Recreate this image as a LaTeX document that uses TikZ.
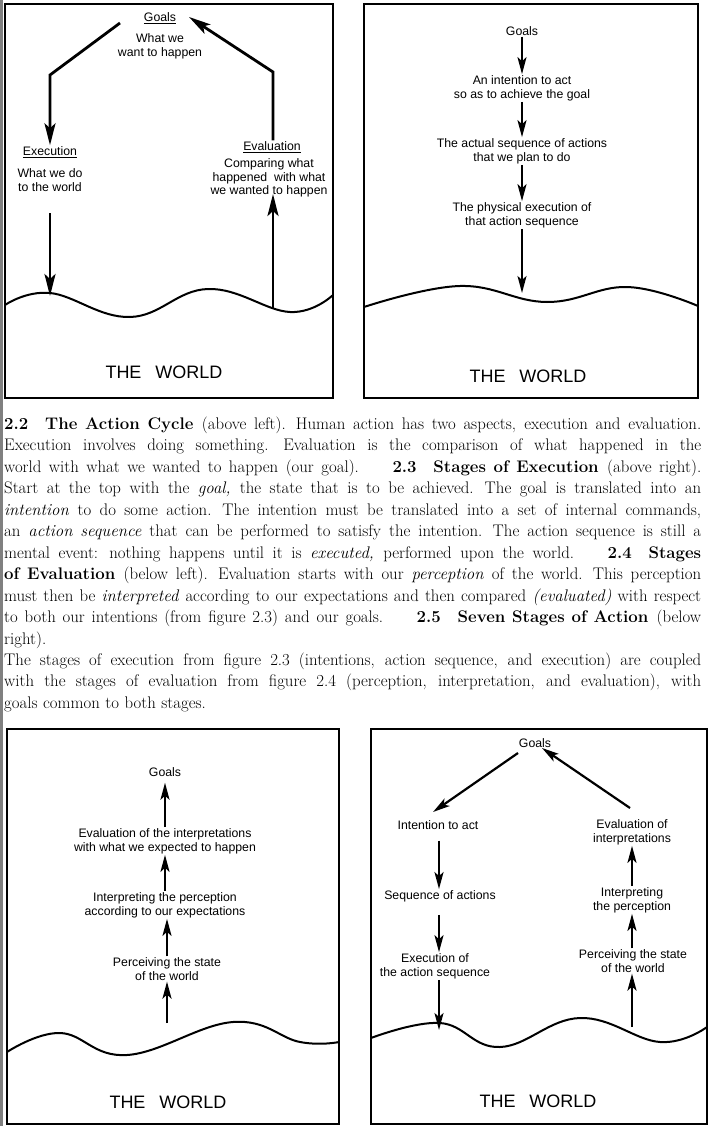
\documentclass[tikz,border=0pt]{standalone}
\usepackage{fontspec}
\setsansfont{Liberation Sans}
\usetikzlibrary{positioning,arrows.meta,calc}

\newcommand{\fignum}[1]{\oldstylenums{#1}}
\newcommand{\capsep}{\hspace{2em}}
\newcommand{\capsetup}{%
  \spaceskip=.33em plus .5em minus .12em\relax
  \xspaceskip=.45em plus .6em minus .12em\relax
  \tolerance=9999\relax
  \hyphenpenalty=10000\relax
  \parindent=0pt\relax}

\begin{document}
\begin{tikzpicture}[
    x=1pt, y=-1pt,
    arrow/.style={
        line width=2.2pt,
        -{Stealth[length=17pt,width=9pt,inset=4pt]},
    },
    arrow_big/.style={
        line width=2.8pt,
        -{Stealth[length=22pt,width=11pt,inset=5pt]},
    },
    panel/.style={draw, line width=1.3pt},
    wave/.style={line width=2pt, line join=round},
    stage/.style={
        align=center,
        inner sep=1pt,
        font=\sffamily\fontsize{12.3}{13.8}\selectfont,
    },
    world/.style={
        inner sep=0pt,
        font=\sffamily\fontsize{18}{20}\selectfont,
    },
    captext/.style={
        text width=697pt,
        align=justify,
        inner sep=0pt,
        anchor=base west,
        font=\fontsize{16.8}{21.45}\selectfont\capsetup,
    },
]
    \useasboundingbox (0,0) rectangle (720,1126);
    \fill[black!50] (0,0) rectangle (3,1126);

    % Panel frames
    \draw[panel] (5,4) rectangle (333,398);
    \draw[panel] (364,4) rectangle (698,398);
    \draw[panel] (7,729) rectangle (339,1124);
    \draw[panel] (371,729) rectangle (707,1124);

    % The world surfaces
    \draw[wave] plot[smooth, tension=0.7] coordinates {(5,305) (50,293) (130,317) (208,289) (290,312) (333,295)};
    \draw[wave] plot[smooth, tension=0.7] coordinates {(364,307) (460,286) (547,302) (627,287) (698,306)};
    \draw[wave] plot[smooth, tension=0.7] coordinates {(7,1052) (60,1033) (127,1055) (233,1022) (300,1042) (339,1042)};
    \draw[wave] plot[smooth, tension=0.7] coordinates {(371,1038) (440,1023) (500,1047) (580,1018) (660,1042) (707,1027)};

    % === The action cycle (top left) ===
    \node[stage] (aGoals) at (160,18) {\underline{Goals}};
    \node[stage] (aWant) at (160,46) {What we\\want to happen};
    \node[stage] (aExec) at (50,152) {\underline{Execution}};
    \node[stage] (aDo) at (50,180) {What we do\\to the world};
    \node[stage] (aEval) at (272,147) {\underline{Evaluation}};
    \node[stage] (aCmp) at (269,178) {Comparing what\\happened\ \ with what\\we wanted to happen};
    \node[world] (aWorld) at (164,372) {THE\hspace{14pt}WORLD};

    \coordinate (aOutL) at (120,23);
    \coordinate (aBendL) at (50,75);
    \coordinate (aOutD) at (50,213);
    \coordinate (aHitL) at (50,296);
    \coordinate (aHitR) at (273,309);
    \coordinate (aTipR) at (273,194);
    \coordinate (aBendR) at (273,72);
    \coordinate (aInR) at (189,17);

    \draw[arrow_big] (aOutL) -- (aBendL) -- (aExec.north);
    \draw[arrow_big] (aOutD) -- (aHitL);
    \draw[arrow_big] (aHitR) -- (aTipR);
    \draw[arrow_big] (aEval.north -| aHitR) -- (aBendR) -- (aInR);

    % === Stages of execution (top right) ===
    \node[stage] (bGoals) at (522,31) {Goals};
    \node[stage] (bInt) at (522,88) {An intention to act\\so as to achieve the goal};
    \node[stage] (bSeq) at (522,151) {The actual sequence of actions\\that we plan to do};
    \node[stage] (bPhys) at (522,215) {The physical execution of\\that action sequence};
    \node[world] (bWorld) at (528,376) {THE\hspace{14pt}WORLD};
    \coordinate (bHit) at (522,293);

    \draw[arrow] (bGoals) -- (bInt);
    \draw[arrow] (bInt) -- (bSeq);
    \draw[arrow] (bSeq) -- (bPhys);
    \draw[arrow] (bPhys) -- (bHit);

    % === Caption ===
    \node[captext] (cap) at (4,429.5) {%
    {\bfseries\fignum{2.2}\quad The Action Cycle}\enspace (above left). Human action has two aspects, execution and evaluation.\linebreak
    Execution involves doing something. Evaluation is the comparison of what happened in the\linebreak
    world with what we wanted to happen (our goal).\capsep{\bfseries\fignum{2.3}\quad Stages of Execution}\enspace (above right).\linebreak
    Start at the top with the \textit{goal,} the state that is to be achieved. The goal is translated into an\linebreak
    \textit{intention} to do some action. The intention must be translated into a set of internal commands,\linebreak
    an \textit{action sequence} that can be performed to satisfy the intention. The action sequence is still a\linebreak
    mental event: nothing happens until it is \textit{executed,} performed upon the world.\capsep{\bfseries\fignum{2.4}\quad Stages}\linebreak
    {\bfseries of Evaluation}\enspace (below left). Evaluation starts with our \textit{perception} of the world. This perception\linebreak
    must then be \textit{interpreted} according to our expectations and then compared \textit{(evaluated)} with respect\linebreak
    to both our intentions (from figure \fignum{2.3}) and our goals.\capsep{\bfseries\fignum{2.5}\quad Seven Stages of Action}\enspace (below\linebreak
    right).\par
    The stages of execution from figure \fignum{2.3} (intentions, action sequence, and execution) are coupled\linebreak
    with the stages of evaluation from figure \fignum{2.4} (perception, interpretation, and evaluation), with\linebreak
    goals common to both stages.};

    % === Stages of evaluation (bottom left) ===
    \node[stage] (cGoals) at (165,772) {Goals};
    \node[stage] (cEval) at (165,841) {Evaluation of the interpretations\\with what we expected to happen};
    \node[stage] (cInt) at (165,905) {Interpreting the perception\\according to our expectations};
    \node[stage] (cPerc) at (167,969) {Perceiving the state\\of the world};
    \node[world] (cWorld) at (168,1102) {THE\hspace{14pt}WORLD};
    \coordinate (cOut) at (167,1023);

    \draw[arrow, shorten >=5pt] (cEval) -- (cGoals);
    \draw[arrow] (cInt) -- (cEval);
    \draw[arrow] (cPerc.north) -- (cPerc.north |- cInt.south);
    \draw[arrow] (cOut) -- (cPerc.south);

    % === Seven stages of action (bottom right) ===
    \node[stage] (dGoals) at (535,743) {Goals};
    \node[stage] (dIntA) at (438,825) {Intention to act};
    \node[stage] (dSeq) at (440,896) {Sequence of actions};
    \node[stage] (dExe) at (435,966) {Execution of\\the action sequence};
    \node[stage] (dEvI) at (632,832) {Evaluation of\\interpretations};
    \node[stage] (dIntP) at (632,900) {Interpreting\\the perception};
    \node[stage] (dPerc) at (633,961) {Perceiving the state\\of the world};
    \node[world] (dWorld) at (538,1101) {THE\hspace{14pt}WORLD};

    \coordinate (dOutL) at (518,753);
    \coordinate (dTipL) at (433,812);
    \coordinate (dOutR) at (630,808);
    \coordinate (dInR) at (542,748);
    \coordinate (dHitL) at (439,1030);
    \coordinate (dHitR) at (632,1027);

    \draw[arrow] (dOutL) -- (dTipL);
    \draw[arrow] (dOutR) -- (dInR);
    \draw[arrow, shorten <=10pt] (dIntA.south -| dHitL) -- (dSeq.north -| dHitL);
    \draw[arrow, shorten <=12pt] (dSeq.south -| dHitL) -- (dExe.north -| dHitL);
    \draw[arrow] (dExe.south -| dHitL) -- (dHitL);
    \draw[arrow] (dHitR) -- (dPerc.south -| dHitR);
    \draw[arrow] (dPerc.north -| dHitR) -- (dIntP.south -| dHitR);
    \draw[arrow] (dIntP.north -| dHitR) -- (dEvI.south -| dHitR);

\end{tikzpicture}
\end{document}
